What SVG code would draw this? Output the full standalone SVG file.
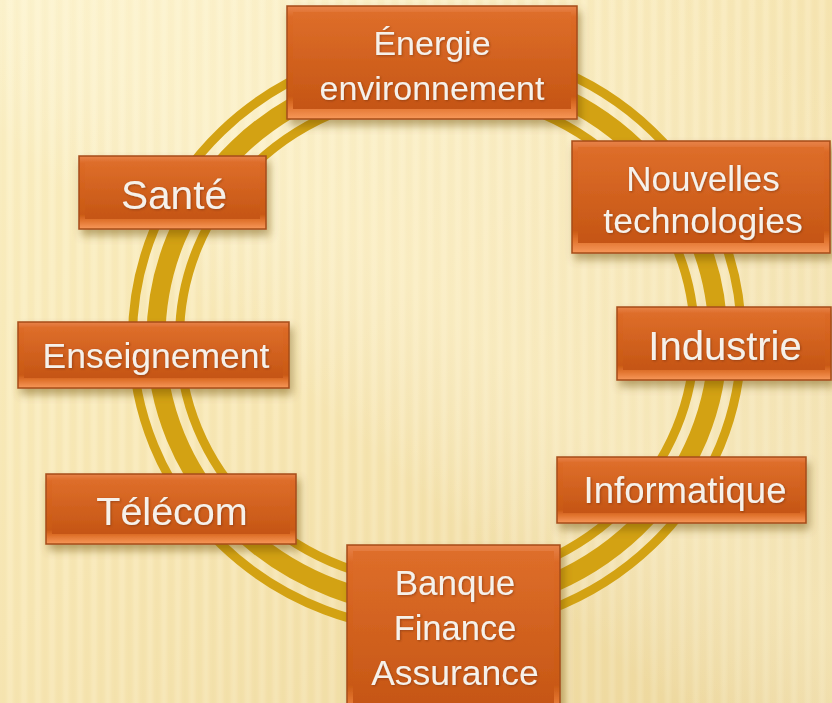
<svg xmlns="http://www.w3.org/2000/svg" width="832" height="703" viewBox="0 0 832 703">
<defs>
  <linearGradient id="bg" x1="0" y1="0" x2="1" y2="1">
    <stop offset="0" stop-color="#FCF2C8"/>
    <stop offset="0.45" stop-color="#F8E8B6"/>
    <stop offset="1" stop-color="#EDD89E"/>
  </linearGradient>
  <linearGradient id="sheen" x1="1" y1="0" x2="0" y2="1">
    <stop offset="0" stop-color="#FFFFFF" stop-opacity="0"/>
    <stop offset="0.45" stop-color="#FFF8DC" stop-opacity="0.35"/>
    <stop offset="0.6" stop-color="#FFFFFF" stop-opacity="0"/>
  </linearGradient>
  <pattern id="stripes" x="0" y="0" width="14" height="703" patternUnits="userSpaceOnUse">
    <rect x="0" y="0" width="6" height="703" fill="#D9B865" opacity="0.08"/>
    <rect x="8" y="0" width="4" height="703" fill="#FFFFFF" opacity="0.12"/>
  </pattern>
  <filter id="soft" x="0" y="0" width="100%" height="100%">
    <feGaussianBlur stdDeviation="1.5 0"/>
  </filter>
  <linearGradient id="face" x1="0" y1="0" x2="0" y2="1">
    <stop offset="0" stop-color="#E8834A"/>
    <stop offset="0.1" stop-color="#DC6A26"/>
    <stop offset="0.8" stop-color="#C95914"/>
    <stop offset="0.88" stop-color="#E0722C"/>
    <stop offset="1" stop-color="#F7985A"/>
  </linearGradient>
  <linearGradient id="inner" x1="0" y1="0" x2="0" y2="1">
    <stop offset="0" stop-color="#DE6E2A"/>
    <stop offset="1" stop-color="#C55514"/>
  </linearGradient>
  <filter id="shadow" x="-10%" y="-10%" width="125%" height="135%">
    <feDropShadow dx="3" dy="6" stdDeviation="4" flood-color="#6B4A10" flood-opacity="0.45"/>
  </filter>
  <filter id="tshadow" x="-5%" y="-20%" width="110%" height="140%">
    <feDropShadow dx="1" dy="1" stdDeviation="0.8" flood-color="#7A3008" flood-opacity="0.6"/>
  </filter>
</defs>
<style>
  .box { fill: url(#face); stroke: #A64C18; stroke-width: 1.5; }
  .in { fill: url(#inner); }
  .ring { fill: none; stroke: #D3A213; }
  text { font-family: "Liberation Sans", Arial, sans-serif; fill: #F6F1EA; text-anchor: middle; filter: url(#tshadow); }
</style>

<rect x="0" y="0" width="832" height="703" fill="url(#bg)"/>
<rect x="0" y="0" width="832" height="703" fill="url(#stripes)" filter="url(#soft)"/>
<rect x="0" y="0" width="832" height="703" fill="url(#sheen)"/>

<g id="ring">
  <ellipse class="ring" cx="437" cy="338" rx="304.5" ry="292.5" stroke-width="9"/>
  <ellipse class="ring" cx="437" cy="338" rx="281" ry="269" stroke-width="19"/>
  <ellipse class="ring" cx="437" cy="338" rx="257.5" ry="245.5" stroke-width="9"/>
</g>

<g id="n-energie" filter="url(#shadow)">
  <rect class="box" x="287" y="6" width="290" height="113"/>
  <rect class="in" x="293" y="12" width="278" height="97"/>
  <text x="432" y="55" font-size="34">Énergie</text>
  <text x="432" y="100" font-size="34">environnement</text>
</g>

<g id="n-nouvelles" filter="url(#shadow)">
  <rect class="box" x="572" y="141" width="258" height="112"/>
  <rect class="in" x="578" y="147" width="246" height="96"/>
  <text x="703" y="191" font-size="35">Nouvelles</text>
  <text x="703" y="233" font-size="35.5">technologies</text>
</g>

<g id="n-industrie" filter="url(#shadow)">
  <rect class="box" x="617" y="307" width="214" height="73"/>
  <rect class="in" x="623" y="313" width="202" height="57"/>
  <text x="725" y="360" font-size="40">Industrie</text>
</g>

<g id="n-informatique" filter="url(#shadow)">
  <rect class="box" x="557" y="457" width="249" height="66"/>
  <rect class="in" x="563" y="463" width="237" height="50"/>
  <text x="685" y="503" font-size="36.5">Informatique</text>
</g>

<g id="n-banque" filter="url(#shadow)">
  <rect class="box" x="347" y="545" width="213" height="175"/>
  <rect class="in" x="353" y="551" width="201" height="160"/>
  <text x="455" y="595" font-size="35">Banque</text>
  <text x="455" y="640" font-size="34.5">Finance</text>
  <text x="455" y="685" font-size="35.5">Assurance</text>
</g>

<g id="n-telecom" filter="url(#shadow)">
  <rect class="box" x="46" y="474" width="250" height="70"/>
  <rect class="in" x="52" y="480" width="238" height="54"/>
  <text x="172" y="525" font-size="39.5">Télécom</text>
</g>

<g id="n-enseignement" filter="url(#shadow)">
  <rect class="box" x="18" y="322" width="271" height="66"/>
  <rect class="in" x="24" y="328" width="259" height="50"/>
  <text x="156" y="368" font-size="35.5">Enseignement</text>
</g>

<g id="n-sante" filter="url(#shadow)">
  <rect class="box" x="79" y="156" width="187" height="73"/>
  <rect class="in" x="85" y="162" width="175" height="57"/>
  <text x="174" y="209" font-size="40.5">Santé</text>
</g>
</svg>
